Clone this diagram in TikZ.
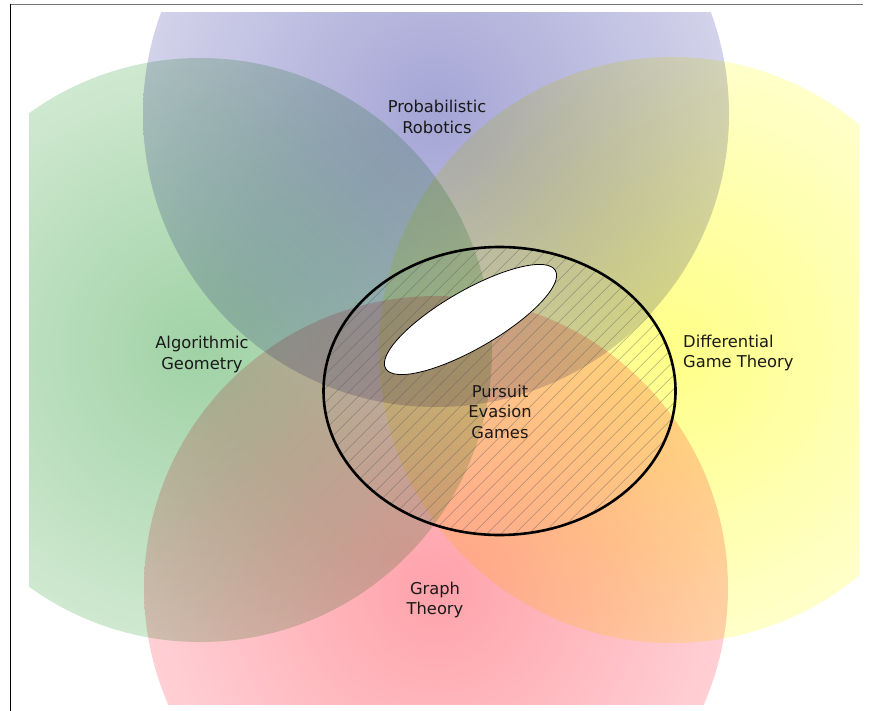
\documentclass[tikz,border=0pt]{standalone}
\usepackage{fontspec}
\setmainfont{DejaVu Sans}
\usetikzlibrary{patterns.meta}

\definecolor{robotIn}{RGB}{165,165,214}
\definecolor{robotOut}{RGB}{228,228,242}
\definecolor{geomIn}{RGB}{160,210,165}
\definecolor{geomOut}{RGB}{226,241,226}
\definecolor{gameIn}{RGB}{255,255,135}
\definecolor{gameOut}{RGB}{255,255,228}
\definecolor{graphIn}{RGB}{255,162,170}
\definecolor{graphOut}{RGB}{255,226,230}

\colorlet{vennin}{white}
\colorlet{vennout}{white}
\pgfdeclareradialshading[vennin,vennout]{vennglow}{\pgfpointorigin}{color(0bp)=(vennin); color(35bp)=(vennout); color(50bp)=(vennout)}

\begin{document}
\begin{tikzpicture}[x=1pt, y=1pt, font=\fontsize{16.3}{20.5}\selectfont]
    \tikzset{%
      venn/.style 2 args={/utils/exec={\colorlet{vennin}{#1}\colorlet{vennout}{#2}}, shading=vennglow},
      lbl/.style={align=center, inner sep=0pt, text=black!90}
      }
    \useasboundingbox (0,0) rectangle (869,-711);
    \draw [black!55, line width=1.5pt] (10,-4.5) -- (863,-4.5);
    \draw [line width=1pt] (10.3,-4) -- (10.3,-711);

    \begin{scope}[blend mode=multiply]
      \clip (29,-13) rectangle (859,-704);
      \shade [venn={robotIn}{robotOut}] (436,-114) circle (293);
      \shade [venn={geomIn}{geomOut}] (200,-350) circle (292);
      \shade [venn={gameIn}{gameOut}] (672,-350) circle (293);
      \shade [venn={graphIn}{graphOut}] (436,-588) circle (292);
    \end{scope}

    \draw [line width=2.6pt, pattern={Lines[angle=45, distance=10.5pt, line width=0.5pt]}, pattern color=black!65] (499.5,-391) ellipse (176 and 144);
    \draw [fill=white, line width=0.8pt, rotate around={30:(470.5,-319.5)}] (470.5,-319.5) ellipse (98 and 29);

    \node [lbl] (Vprob) at (437,-117) {Probabilistic\\Robotics};
    \node [lbl] (Valg) at (202,-354.5) {Algorithmic\\Geometry};
    \node [lbl, align=left, anchor=west] (Vdiff) at (683,-353) {Differential\\Game Theory};
    \node [lbl] (Vpeg) at (500,-411.5) {Pursuit\\Evasion\\Games};
    \node [lbl] (Vgraph) at (435,-600) {Graph\\Theory};
  \end{tikzpicture}
\end{document}
